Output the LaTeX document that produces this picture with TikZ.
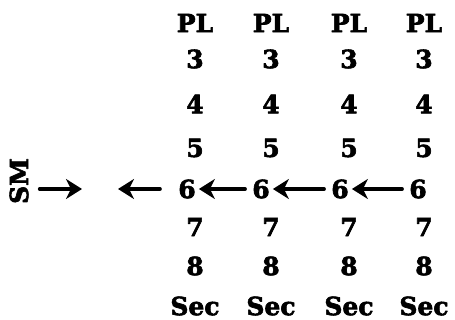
\documentclass[tikz,border=0pt]{standalone}
\usepackage{fontspec}
\setmainfont{DejaVu Serif}[BoldFeatures={FakeBold=2.5}]
\usetikzlibrary{arrows.meta}

\begin{document}
\begin{tikzpicture}[line cap=round,line join=round,>={Stealth[length=16pt,width=20pt,inset=5pt]},x=1pt,y=-1pt,
  lbl/.style={font=\fontsize{25}{28}\selectfont\bfseries,inner sep=1pt},
  flow/.style={->,line width=3.6pt}]
\useasboundingbox (0,0) rectangle (455,320);
% the four columns
\foreach \c/\x in {1/195,2/271,3/349,4/424} {
  \node[lbl] (pl\c) at (\x,23) {PL};
  \foreach \r/\y in {3/59,4/104,5/148,7/227,8/266}
    \node[lbl] (n\r\c) at (\x,\y) {\r};
  \node[lbl] (sec\c) at (\x,306) {Sec};
}
% row of sixes, a little to the left
\foreach \c/\x in {1/187,2/261,3/340,4/418}
  \node[lbl] (six\c) at (\x,189) {6};
\node[lbl,rotate=90] (sm) at (19,181) {SM};
\coordinate (smtip) at (82,189);
\coordinate (gapR) at (160,189);
\coordinate (gapL) at (118,189);
\draw[flow,shorten <=10pt] (sm.south |- smtip) -- (smtip);
\draw[flow] (gapR) -- (gapL);
\foreach \a/\b in {2/1,3/2,4/3}
  \draw[flow,shorten <=6pt,shorten >=2pt] (six\a.west) -- (six\b.east);
\end{tikzpicture}
\end{document}
